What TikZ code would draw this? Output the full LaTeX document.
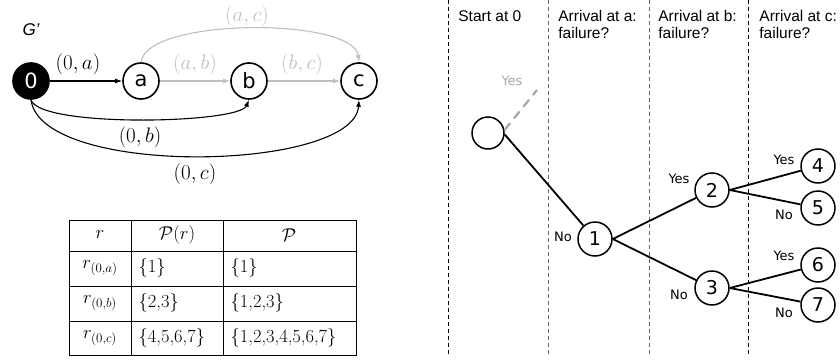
\RequirePackage{fix-cm}
\documentclass[tikz,border=0pt]{standalone}
\usepackage{fontspec}
\newfontfamily\headfont{Liberation Sans}
\newfontfamily\nodefont{DejaVu Sans}
\usetikzlibrary{arrows.meta}

\begin{document}
\begin{tikzpicture}[x=1pt,y=-1pt,thick]

		\tikzstyle{state}=[shape=circle,draw,line width=1.6pt,minimum size=36pt,inner sep=0pt,font=\nodefont\fontsize{21}{21}\selectfont]
		\tikzstyle{leaf}=[shape=circle,draw,line width=1.5pt,minimum size=34pt,inner sep=0pt,font=\nodefont\fontsize{19}{19}\selectfont]
		\tikzstyle{arc}=[-{Latex[length=7pt,width=5pt]},line width=1.1pt]
		\tikzstyle{faded}=[arc,draw=black!25]
		\tikzstyle{lbl}=[font=\fontsize{21}{21}\selectfont]
		\tikzstyle{cell}=[font=\fontsize{18.5}{18.5}\selectfont]
		\tikzstyle{head}=[font=\headfont\fontsize{15.5}{17}\selectfont,anchor=north west,align=left,inner sep=0pt]
		\tikzstyle{answer}=[font=\nodefont\fontsize{13}{13}\selectfont,inner sep=0pt]
		\tikzstyle{branch}=[line width=1.8pt]
		\tikzstyle{divider}=[dash pattern=on 4pt off 3pt,line width=0.8pt]

		\useasboundingbox (0,0) rectangle (840,361);

		% graph G'
		\node[font=\headfont\itshape\fontsize{17}{17}\selectfont] (gp) at (31,30) {G’};
		\node[state,fill=black,text=white] (v0) at (31,81) {0};
		\node[state] (va) at (141,81) {a};
		\node[state] (vb) at (249,81) {b};
		\node[state] (vc) at (359,81) {c};

		\path (v0) edge [arc] (va)
					(va) edge [faded] (vb)
					(vb) edge [faded] (vc);
		\draw[faded] (va.north) .. controls +(5,-45) and +(-5,-45) .. (vc.north);
		\draw[arc] (v0.south) .. controls +(8,28) and +(-10,24) .. (vb.south);
		\draw[arc] (v0.south) .. controls +(10,78) and +(-5,72) .. (vc.south);

		\node[lbl] (l0a) at (78,64) {$(0,a)$};
		\node[lbl,text=black!25] (lab) at (195,64) {$(a,b)$};
		\node[lbl,text=black!25] (lbc) at (302,64) {$(b,c)$};
		\node[lbl,text=black!25] (lac) at (247,16) {$(a,c)$};
		\node[lbl] (l0b) at (140,137) {$(0,b)$};
		\node[lbl] (l0c) at (195,174) {$(0,c)$};

		% table
		\draw[line width=0.9pt] (69,220) rectangle (356,355);
		\foreach \y in {251,286,321} \draw[line width=0.9pt] (69,\y) -- (356,\y);
		\foreach \x in {131,223} \draw[line width=0.9pt] (\x,220) -- (\x,355);

		\node[cell] (tr) at (100,235) {$r$};
		\node[cell] (tpr) at (177,235) {$\mathcal{P}(r)$};
		\node[cell] (tp) at (289,235) {$\mathcal{P}$};
		\node[cell] (ra) at (100,268) {$r_{(0,a)}$};
		\node[cell] (rb) at (100,303) {$r_{(0,b)}$};
		\node[cell] (rc) at (100,338) {$r_{(0,c)}$};
		\node[cell,anchor=west] (pa) at (135,268) {\{1\}};
		\node[cell,anchor=west] (pb) at (135,303) {\{2,3\}};
		\node[cell,anchor=west] (pc) at (135,338) {\{4,5,6,7\}};
		\node[cell,anchor=west] (qa) at (227,268) {\{1\}};
		\node[cell,anchor=west] (qb) at (227,303) {\{1,2,3\}};
		\node[cell,anchor=west] (qc) at (227,338) {\{1,2,3,4,5,6,7\}};

		% decision tree
		\draw[divider] (448,0) -- (448,355);
		\draw[divider,black!60] (548,0) -- (548,355);
		\draw[divider,black!60] (649,0) -- (649,355);
		\draw[divider] (748,0) -- (748,355);

		\node[head] (h0) at (458,10) {Start at 0};
		\node[head] (ha) at (558,10) {Arrival at a:\\failure?};
		\node[head] (hb) at (658,10) {Arrival at b:\\failure?};
		\node[head] (hc) at (759,10) {Arrival at c:\\failure?};

		\node[leaf,minimum size=32pt] (root) at (488,133) {};
		\node[leaf] (n1) at (595,239) {1};
		\node[leaf] (n2) at (712,190) {2};
		\node[leaf] (n3) at (712,288) {3};
		\node[leaf] (n4) at (818,166) {4};
		\node[leaf] (n5) at (818,208) {5};
		\node[leaf] (n6) at (818,265) {6};
		\node[leaf] (n7) at (818,305) {7};
		\coordinate (yesend) at (537,90);

		\draw[black!35,line width=2.2pt,dash pattern=on 9pt off 6pt] (root.10) -- (yesend);
		\path (root.-5) edge [branch] (n1)
					(n1.east) edge [branch] (n2)
					(n1.east) edge [branch] (n3)
					(n2.east) edge [branch] (n4)
					(n2.east) edge [branch] (n5)
					(n3.east) edge [branch] (n6)
					(n3.east) edge [branch] (n7);

		\node[answer,text=black!35] (yes0) at (512,81) {Yes};
		\node[answer] (no1) at (563,237) {No};
		\node[answer] (yes2) at (679,179) {Yes};
		\node[answer] (no3) at (679,295) {No};
		\node[answer] (yes4) at (784,160) {Yes};
		\node[answer] (no5) at (784,215) {No};
		\node[answer] (yes6) at (784,256) {Yes};
		\node[answer] (no7) at (784,313) {No};

	\end{tikzpicture}
\end{document}
